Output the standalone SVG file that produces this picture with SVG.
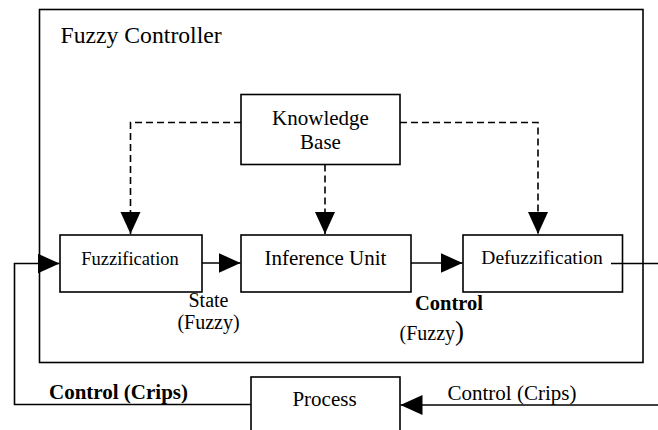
<svg xmlns="http://www.w3.org/2000/svg" width="658" height="430" viewBox="0 0 658 430" font-family="Liberation Serif, Times New Roman, serif">
<style>
.box{fill:none;stroke:#000;stroke-width:1.6}
.line{fill:none;stroke:#000;stroke-width:1.6}
.dash{fill:none;stroke:#000;stroke-width:1.6;stroke-dasharray:7 4}
text{font-family:'Liberation Serif','Times New Roman',serif;fill:#000;font-size:21px}
.c{text-anchor:middle}
.b{font-weight:bold}
</style>
<defs>
<marker id="ah" markerUnits="userSpaceOnUse" markerWidth="22" markerHeight="22" viewBox="0 0 22 22" refX="22" refY="11" orient="auto">
<path d="M0,1 L22,11 L0,21 z" fill="#000"/>
</marker>
</defs>
<rect width="658" height="430" fill="#fff"/>
<g id="fuzzy-controller">
<rect class="box" x="39.5" y="9.5" width="603.5" height="353"/>
<text x="60.5" y="42.5" style="font-size:23.7px">Fuzzy Controller</text>
</g>
<g id="knowledge-base">
<rect class="box" x="241" y="94.5" width="159" height="70"/>
<text class="c" x="320.5" y="125">Knowledge</text>
<text class="c" x="320.5" y="148.5">Base</text>
</g>
<g id="fuzzification">
<rect class="box" x="60" y="235" width="142" height="57"/>
<text class="c" x="130" y="264.5" style="font-size:18.5px">Fuzzification</text>
</g>
<g id="inference-unit">
<rect class="box" x="241" y="235" width="170" height="57"/>
<text class="c" x="325.5" y="265">Inference Unit</text>
</g>
<g id="defuzzification">
<rect class="box" x="463" y="235" width="159.5" height="57"/>
<text class="c" x="542" y="264" style="font-size:19.5px">Defuzzification</text>
</g>
<g id="process">
<rect class="box" x="251" y="377" width="149" height="70"/>
<text class="c" x="324.5" y="406">Process</text>
</g>
<g id="connectors">
<path class="dash" d="M241,122.5 H130.5 V234" marker-end="url(#ah)"/>
<path class="dash" d="M325,164.5 V234" marker-end="url(#ah)"/>
<path class="dash" d="M400,122.5 H538 V234" marker-end="url(#ah)"/>
<path class="line" d="M202,263 H240.5" marker-end="url(#ah)"/>
<path class="line" d="M411,263 H462.5" marker-end="url(#ah)"/>
<path class="line" d="M611,263.5 H658"/>
<path class="line" d="M658,405 H400.5" marker-end="url(#ah)"/>
<path class="line" d="M251,404.5 H14.5 V263.5 H59.5" marker-end="url(#ah)"/>
</g>
<g id="labels">
<text class="c" x="208.5" y="306.5" style="font-size:20px">State</text>
<text class="c" x="208.5" y="328.5" style="font-size:20px">(Fuzzy)</text>
<text class="c b" x="449" y="310" style="font-size:20.5px">Control</text>
<text x="399.5" y="340" style="font-size:20px">(Fuzzy<tspan style="font-size:27px">)</tspan></text>
<text class="b" x="49" y="398.5">Control (Crips)</text>
<text x="447.5" y="400">Control (Crips)</text>
</g>
</svg>
